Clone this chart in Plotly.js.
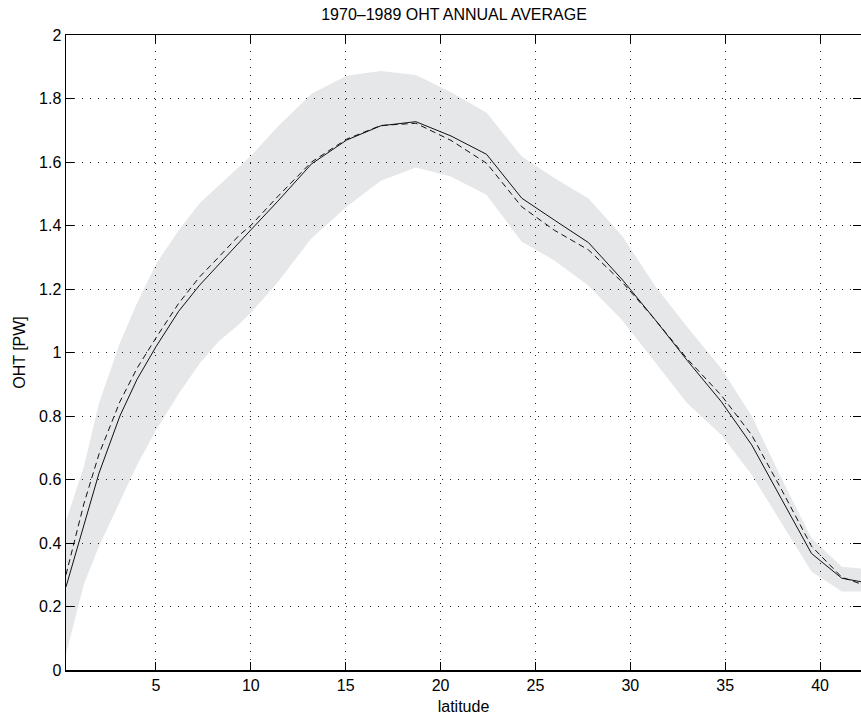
<!DOCTYPE html>
<html>
<head>
<meta charset="utf-8">
<script src="https://cdn.plot.ly/plotly-3.0.1.min.js"></script>
<style>
html,body{margin:0;padding:0;background:#fff;overflow:hidden;}
#chart{width:861px;height:717px;}
</style>
</head>
<body>
<div id="chart"></div>
<script>
// latitude grid (degrees N)
const latitude  = [0.26, 1.2, 2.0, 3.1, 4.0, 5.0, 6.2, 7.3, 8.3, 9.4, 10.0, 11.4, 13.2, 15.05, 16.85, 18.7, 20.55, 22.43, 24.28, 26.0, 27.8, 29.6, 31.3, 33.0, 34.8, 36.4, 38.0, 39.55, 41.15, 42.16];
// OHT [PW]
const ohtSolid  = [0.262, 0.456, 0.62, 0.80, 0.915, 1.018, 1.13, 1.212, 1.277, 1.35, 1.386, 1.475, 1.594, 1.669, 1.714, 1.727, 1.682, 1.624, 1.486, 1.417, 1.346, 1.228, 1.104, 0.975, 0.845, 0.709, 0.534, 0.367, 0.289, 0.278];
const ohtDashed = [0.30, 0.523, 0.68, 0.845, 0.95, 1.046, 1.155, 1.238, 1.30, 1.37, 1.40, 1.49, 1.60, 1.672, 1.715, 1.722, 1.668, 1.596, 1.459, 1.385, 1.323, 1.22, 1.104, 0.98, 0.865, 0.74, 0.565, 0.39, 0.292, 0.271];
const bandUpper = [0.47, 0.64, 0.84, 1.03, 1.155, 1.278, 1.385, 1.47, 1.525, 1.585, 1.619, 1.71, 1.815, 1.872, 1.887, 1.874, 1.82, 1.755, 1.617, 1.55, 1.485, 1.365, 1.21, 1.08, 0.95, 0.80, 0.60, 0.415, 0.325, 0.32];
const bandLower = [0.05, 0.27, 0.39, 0.53, 0.645, 0.755, 0.87, 0.965, 1.035, 1.09, 1.125, 1.22, 1.36, 1.459, 1.541, 1.583, 1.554, 1.496, 1.349, 1.29, 1.21, 1.10, 0.97, 0.84, 0.74, 0.615, 0.46, 0.31, 0.247, 0.247];

const xTicks = [5, 10, 15, 20, 25, 30, 35, 40];
const yTicks = [0, 0.2, 0.4, 0.6, 0.8, 1, 1.2, 1.4, 1.6, 1.8, 2];

const FONT = '"Liberation Sans", Arial, Helvetica, sans-serif';

const traces = [
  {x: latitude, y: bandLower, mode: 'lines', line: {width: 0, color: 'rgba(0,0,0,0)'}, hoverinfo: 'skip', showlegend: false},
  {x: latitude, y: bandUpper, mode: 'lines', line: {width: 0, color: 'rgba(0,0,0,0)'}, fill: 'tonexty', fillcolor: 'rgba(5,15,35,0.1)', hoverinfo: 'skip', showlegend: false},
  {x: latitude, y: ohtDashed, mode: 'lines', line: {color: '#111', width: 1, dash: '6px,4px'}, showlegend: false},
  {x: latitude, y: ohtSolid, mode: 'lines', line: {color: '#111', width: 1}, showlegend: false}
];

const layout = {
  width: 861, height: 717,
  margin: {l: 66, r: 0, t: 35, b: 47, pad: 0},
  paper_bgcolor: '#fff', plot_bgcolor: '#fff',
  font: {family: FONT, size: 16, color: '#000'},
  showlegend: false,
  title: {text: '1970\u20131989 OHT ANNUAL AVERAGE', font: {family: FONT, size: 16, color: '#000'}, x: (454 - 66) / 795, xref: 'paper', xanchor: 'center', y: 1 - 14 / 717, yref: 'container', yanchor: 'middle'},
  xaxis: {
    range: [0.26, 42.16], tickmode: 'array', tickvals: xTicks, ticktext: xTicks.map(String),
    ticks: 'inside', ticklen: 8, tickwidth: 1, tickcolor: '#000',
    showline: true, linecolor: '#000', linewidth: 1.5, mirror: 'ticks',
    showgrid: true, gridcolor: '#222', gridwidth: 1, griddash: '1px,7px',
    zeroline: false, tickfont: {family: FONT, size: 16, color: '#000'},
    title: {text: 'latitude', font: {family: FONT, size: 16, color: '#000'}, standoff: 8},
    automargin: false
  },
  yaxis: {
    range: [0, 2], tickmode: 'array', tickvals: yTicks,
    ticks: 'inside', ticklen: 8, tickwidth: 1, tickcolor: '#000',
    showline: true, linecolor: '#000', linewidth: 1.5, mirror: 'ticks',
    showgrid: true, gridcolor: '#222', gridwidth: 1, griddash: '1px,7px',
    zeroline: false, tickfont: {family: FONT, size: 16, color: '#000'},
    title: {text: 'OHT [PW]', font: {family: FONT, size: 16, color: '#000'}, standoff: 9},
    automargin: false
  }
};

Plotly.newPlot('chart', traces, layout, {displayModeBar: false, staticPlot: true});
</script>
</body>
</html>
